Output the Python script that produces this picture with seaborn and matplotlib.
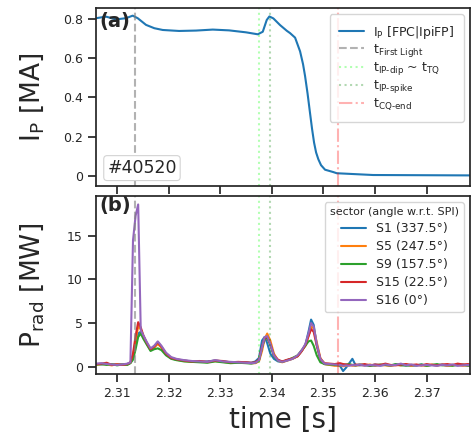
import matplotlib
matplotlib.use("Agg")
import matplotlib.pyplot as plt
import seaborn as sns
import pandas as pd

# ---------------- data ----------------
t_ip = [2.30593, 2.30787, 2.30981, 2.31174, 2.31304, 2.31401, 2.31562, 2.31723,
        2.31886, 2.32202, 2.32531, 2.32855, 2.33171, 2.33500, 2.33727, 2.33824,
        2.33901, 2.33952, 2.34029, 2.34159, 2.34289, 2.34353, 2.34450, 2.34547,
        2.34604, 2.34643, 2.34692, 2.34740, 2.34779, 2.34818, 2.34857, 2.34901,
        2.34953, 2.35031, 2.35190, 2.35258, 2.35961, 2.37841]
ip_vals = [0.804, 0.812, 0.798, 0.804, 0.817, 0.804, 0.770, 0.753,
           0.744, 0.739, 0.741, 0.746, 0.742, 0.732, 0.722, 0.735,
           0.795, 0.813, 0.803, 0.769, 0.740, 0.728, 0.705, 0.635,
           0.570, 0.510, 0.420, 0.320, 0.240, 0.170, 0.120, 0.085,
           0.055, 0.032, 0.020, 0.014, 0.005, 0.003]

t_prad = [2.3060, 2.3070, 2.3080, 2.3090, 2.3100, 2.3110, 2.3120, 2.3126, 2.3131, 2.3136,
          2.3141, 2.3146, 2.3151, 2.3158, 2.3165, 2.3172, 2.3179, 2.3186, 2.3195, 2.3205,
          2.3215, 2.3230, 2.3245, 2.3260, 2.3275, 2.3290, 2.3305, 2.3320, 2.3335, 2.3350,
          2.3360, 2.3368, 2.3375, 2.3381, 2.3386, 2.3391, 2.3397, 2.3404, 2.3412, 2.3420,
          2.3430, 2.3440, 2.3450, 2.3458, 2.3465, 2.3471, 2.3476, 2.3481, 2.3487, 2.3494,
          2.3502, 2.3512, 2.3522, 2.3532, 2.3538, 2.3544, 2.3550, 2.3556, 2.3562, 2.3570,
          2.3580, 2.3590, 2.3600, 2.3610, 2.3620, 2.3630, 2.3640, 2.3650, 2.3660, 2.3670,
          2.3680, 2.3690, 2.3700, 2.3710, 2.3720, 2.3730, 2.3740, 2.3750, 2.3760, 2.3770,
          2.3780, 2.3790]

prad_s1 = [0.30, 0.25, 0.35, 0.20, 0.30, 0.25, 0.30, 0.45, 1.00, 2.50,
           3.80, 4.00, 3.40, 2.60, 1.90, 2.20, 2.70, 2.20, 1.40, 0.95,
           0.80, 0.70, 0.60, 0.55, 0.60, 0.70, 0.60, 0.50, 0.45, 0.50,
           0.45, 0.60, 1.00, 3.00, 3.40, 2.70, 1.50, 0.90, 0.60, 0.55,
           0.75, 0.90, 1.20, 1.80, 2.50, 4.00, 5.40, 4.80, 2.50, 0.80,
           0.30, 0.25, 0.20, 0.10, -0.50, -0.10, 0.40, 0.90, 0.20, 0.15,
           0.20, 0.10, 0.25, 0.15, 0.20, 0.10, 0.25, 0.15, 0.20, 0.10,
           0.15, 0.25, 0.10, 0.20, 0.15, 0.25, 0.10, 0.20, 0.15, 0.25,
           0.10, 0.20]
prad_s5 = [0.20, 0.30, 0.25, 0.15, 0.30, 0.20, 0.25, 0.45, 1.20, 3.00,
           4.60, 4.30, 3.50, 2.60, 2.00, 2.20, 2.60, 2.20, 1.40, 1.00,
           0.80, 0.65, 0.55, 0.60, 0.50, 0.65, 0.55, 0.45, 0.50, 0.45,
           0.40, 0.40, 0.60, 1.80, 3.20, 3.80, 3.00, 1.50, 0.70, 0.50,
           0.70, 0.90, 1.20, 1.80, 2.40, 3.50, 4.60, 4.40, 2.80, 1.00,
           0.30, 0.20, 0.10, 0.15, 0.05, 0.10, 0.20, 0.15, 0.10, 0.20,
           0.15, 0.25, 0.10, 0.20, 0.15, 0.10, 0.20, 0.15, 0.25, 0.10,
           0.20, 0.15, 0.10, 0.25, 0.15, 0.20, 0.10, 0.15, 0.20, 0.10,
           0.15, 0.20]
prad_s9 = [0.25, 0.30, 0.20, 0.30, 0.15, 0.25, 0.20, 0.40, 0.80, 2.00,
           3.40, 3.80, 3.20, 2.50, 1.80, 2.00, 2.10, 1.90, 1.30, 0.90,
           0.75, 0.60, 0.55, 0.50, 0.45, 0.60, 0.50, 0.40, 0.45, 0.40,
           0.35, 0.45, 0.70, 2.20, 3.20, 3.30, 2.50, 1.20, 0.70, 0.55,
           0.75, 1.00, 1.30, 1.90, 2.40, 2.90, 3.00, 2.40, 1.30, 0.50,
           0.30, 0.25, 0.20, 0.15, 0.20, 0.25, 0.30, 0.20, 0.15, 0.25,
           0.20, 0.10, 0.15, 0.25, 0.20, 0.15, 0.30, 0.20, 0.10, 0.20,
           0.15, 0.25, 0.10, 0.20, 0.30, 0.15, 0.20, 0.10, 0.25, 0.20,
           0.15, 0.10]
prad_s15 = [0.30, 0.35, 0.45, 0.20, 0.25, 0.20, 0.30, 0.50, 1.50, 3.50,
            5.10, 4.50, 3.60, 2.70, 2.00, 2.30, 2.80, 2.30, 1.50, 1.00,
            0.85, 0.70, 0.60, 0.65, 0.55, 0.70, 0.65, 0.50, 0.55, 0.50,
            0.45, 0.50, 0.80, 2.30, 3.30, 3.40, 2.60, 1.30, 0.80, 0.60,
            0.80, 0.95, 1.20, 1.80, 2.50, 3.50, 4.30, 4.00, 2.40, 0.90,
            0.40, 0.35, 0.30, 0.40, 0.30, 0.25, 0.20, 0.15, 0.25, 0.20,
            0.30, 0.15, 0.25, 0.20, 0.35, 0.20, 0.15, 0.25, 0.30, 0.20,
            0.25, 0.15, 0.30, 0.20, 0.15, 0.25, 0.30, 0.20, 0.35, 0.25,
            0.30, 0.20]
prad_s16 = [0.35, 0.40, 0.30, 0.25, 0.20, 0.25, 0.35, 0.50, 14.5, 17.3,
            18.6, 4.20, 3.60, 2.80, 2.10, 2.40, 2.90, 2.40, 1.60, 1.10,
            0.90, 0.75, 0.65, 0.60, 0.55, 0.75, 0.60, 0.55, 0.50, 0.45,
            0.40, 0.45, 0.70, 2.20, 3.40, 3.50, 2.60, 1.30, 0.70, 0.55,
            0.70, 0.90, 1.30, 1.90, 2.60, 3.80, 5.00, 4.60, 2.60, 0.90,
            0.35, 0.30, 0.25, 0.20, 0.10, 0.15, 0.10, 0.20, 0.15, 0.25,
            0.10, 0.20, 0.15, 0.10, 0.25, 0.15, 0.20, 0.35, 0.15, 0.25,
            0.10, 0.15, 0.20, 0.15, 0.10, 0.20, 0.15, 0.25, 0.10, 0.15,
            0.20, 0.15]

sector_labels = ["S1 (337.5°)", "S5 (247.5°)", "S9 (157.5°)", "S15 (22.5°)", "S16 (0°)"]
sector_values = [prad_s1, prad_s5, prad_s9, prad_s15, prad_s16]

t_first_light = 2.3135
t_ip_dip = 2.3375
t_ip_spike = 2.33965
t_cq_end = 2.3528

# ---------------- style ----------------
sns.set_theme(style="ticks")
plt.rcParams["font.family"] = ["DejaVu Sans"]
plt.rcParams["mathtext.fontset"] = "dejavusans"

fig = plt.figure(figsize=(4.72, 4.37), dpi=100)
W, H = 472.0, 437.0
ax1 = fig.add_axes([96 / W, 1 - 186 / H, (470 - 96) / W, (186 - 8) / H])
ax2 = fig.add_axes([96 / W, 1 - 374 / H, (470 - 96) / W, (374 - 196) / H])

xlim = (2.30593, 2.37839)

# ---------- top panel ----------
ip_df = pd.DataFrame({"t": t_ip, "ip": ip_vals})
sns.lineplot(data=ip_df, x="t", y="ip", ax=ax1, color="tab:blue", lw=1.5,
             label=r"$\mathrm{I_P}$ [FPC|IpiFP]", estimator=None)

vl_kw = dict(lw=1.5)
def vlines(ax, with_labels):
    ax.axvline(t_first_light, color="gray", alpha=0.6, ls="--",
               label=r"t$_{\mathrm{First\ Light}}$" if with_labels else None, **vl_kw)
    ax.axvline(t_ip_dip, color="lime", alpha=0.3, ls=":",
               label="t$_{\\mathrm{IP‐dip}}$ ~ t$_{\\mathrm{TQ}}$" if with_labels else None, **vl_kw)
    ax.axvline(t_ip_spike, color="green", alpha=0.3, ls=":",
               label="t$_{\\mathrm{IP‐spike}}$" if with_labels else None, **vl_kw)
    ax.axvline(t_cq_end, color="red", alpha=0.3, ls="-.",
               label="t$_{\\mathrm{CQ‐end}}$" if with_labels else None, **vl_kw)

vlines(ax1, True)
ax1.set_xlim(*xlim)
ax1.set_ylim(-0.051, 0.856)
ax1.set_yticks([0, 0.2, 0.4, 0.6, 0.8])
ax1.set_yticklabels(["0", "0.2", "0.4", "0.6", "0.8"])
ax1.set_xticks([2.31, 2.32, 2.33, 2.34, 2.35, 2.36, 2.37])
ax1.tick_params(labelbottom=False, labelsize=9)
ax1.set_xlabel("")
ax1.set_ylabel(r"$\mathrm{I_P}$ [MA]", fontsize=19)
ax1.yaxis.set_label_coords(-0.135, 0.5)
ax1.legend(loc="upper right", fontsize=9, frameon=True, labelspacing=0.1,
           borderpad=0.75, handletextpad=0.7)
ax1.text(0.008, 0.975, "(a)", transform=ax1.transAxes, ha="left", va="top",
         fontsize=14, fontweight="bold")
ax1.text(0.03, 0.05, "#40520", transform=ax1.transAxes, ha="left", va="bottom",
         fontsize=12.5, bbox=dict(boxstyle="round,pad=0.2", fc="white", ec="lightgray", lw=0.8))

# ---------- bottom panel ----------
rows = []
for lab, vals in zip(sector_labels, sector_values):
    for tt, vv in zip(t_prad, vals):
        rows.append({"t": tt, "prad": vv, "sector": lab})
prad_df = pd.DataFrame(rows)
palette = dict(zip(sector_labels, sns.color_palette("tab10", 5)))
sns.lineplot(data=prad_df, x="t", y="prad", hue="sector", hue_order=sector_labels,
             palette=palette, ax=ax2, lw=1.5, estimator=None)
vlines(ax2, False)
ax2.set_xlim(*xlim)
ax2.set_ylim(-0.84, 19.57)
ax2.set_yticks([0, 5, 10, 15])
ax2.set_xticks([2.31, 2.32, 2.33, 2.34, 2.35, 2.36, 2.37])
ax2.tick_params(labelsize=9)
ax2.set_xlabel("time [s]", fontsize=20)
ax2.set_ylabel(r"P$_{\mathrm{rad}}$ [MW]", fontsize=19)
ax2.yaxis.set_label_coords(-0.135, 0.5)
leg2 = ax2.legend(loc="upper right", fontsize=9, title="sector (angle w.r.t. SPI)",
                  title_fontsize=8, frameon=True, labelspacing=0.4)
ax2.text(0.008, 1.0, "(b)", transform=ax2.transAxes, ha="left", va="top",
         fontsize=14, fontweight="bold")

fig.savefig("out.png", dpi=100)
